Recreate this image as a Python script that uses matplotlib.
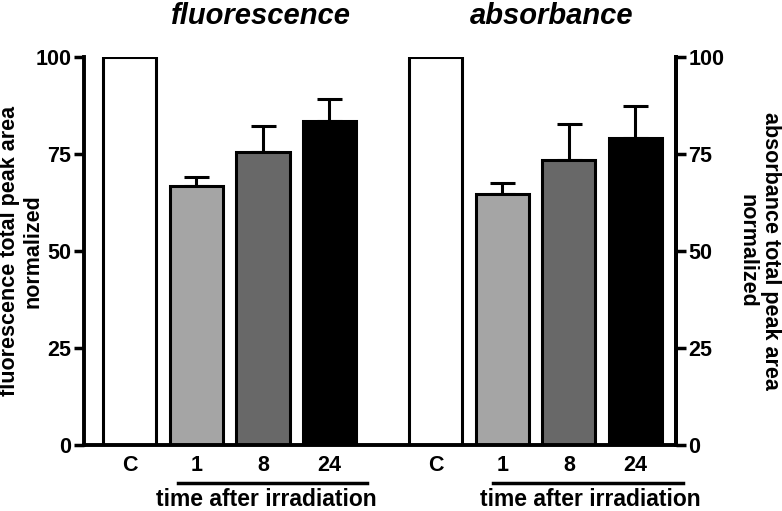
import numpy as np
import matplotlib.pyplot as plt

plt.rcParams['font.family'] = ['Liberation Sans', 'DejaVu Sans']
plt.rcParams['font.weight'] = 'bold'

groups = ['C', '1', '8', '24']
fluo_mean = [100, 66.7, 75.5, 83.5]
fluo_err = [0, 2.4, 6.7, 5.7]
abs_mean = [100, 64.8, 73.5, 79.1]
abs_err = [0, 2.9, 9.2, 8.3]
colors = ['white', '#a5a5a5', '#686868', 'black']

x_left = np.arange(4)
x_right = np.arange(4) + 4.6

fig = plt.figure(figsize=(7.82, 5.11), dpi=100)
ax = fig.add_axes([0.1074, 0.129, 0.757, 0.759])

for xs, m, e in [(x_left, fluo_mean, fluo_err), (x_right, abs_mean, abs_err)]:
    ax.bar(xs, m, width=0.8, color=colors, edgecolor='black', linewidth=2.2, zorder=2)
    ax.errorbar(xs[1:], m[1:], yerr=[np.zeros(3), e[1:]], fmt='none', ecolor='black',
                elinewidth=2.2, capsize=9, capthick=2.2, zorder=1)

ax.set_xlim(-0.69, 8.21)
ax.set_ylim(0, 100)
ax.set_yticks([0, 25, 50, 75, 100])
ax.set_xticks(np.concatenate([x_left, x_right]))
ax.set_xticklabels(groups + groups, fontsize=15.5, fontweight='bold')
ax.tick_params(axis='x', length=0, pad=7)
ax.tick_params(axis='y', width=2.5, length=7, labelsize=15.5, pad=2)
for t in ax.get_yticklabels():
    t.set_fontweight('bold')
ax.spines['top'].set_visible(False)
for s in ['left', 'right', 'bottom']:
    ax.spines[s].set_linewidth(2.8)
ax.set_ylabel('fluorescence total peak area\nnormalized', fontsize=15.5, fontweight='bold',
              linespacing=1.12)
ax.yaxis.set_label_coords(-0.069, 0.5)

ax2 = ax.twinx()
ax2.set_ylim(0, 100)
ax2.set_yticks([0, 25, 50, 75, 100])
ax2.tick_params(axis='y', width=2.5, length=7, labelsize=15.5, pad=2)
for t in ax2.get_yticklabels():
    t.set_fontweight('bold')
ax2.spines['top'].set_visible(False)
ax2.spines['right'].set_linewidth(2.8)
ax2.set_ylabel('absorbance total peak area\nnormalized', fontsize=15.5, fontweight='bold',
               rotation=270, va='bottom', linespacing=1.12)
ax2.yaxis.set_label_coords(1.103, 0.5)

fig.text(0.334, 0.968, 'fluorescence', fontsize=21, fontweight='bold', style='italic',
         ha='center', va='center')
fig.text(0.705, 0.968, 'absorbance', fontsize=21, fontweight='bold', style='italic',
         ha='center', va='center')

# group underline and label
for x0, x1, xc in [(178, 367, 266), (493, 683, 590)]:
    fig.add_artist(plt.Line2D([x0 / 782, x1 / 782], [1 - 483 / 511] * 2, color='black', linewidth=2.5))
    fig.text(xc / 782, 1 - 499 / 511, 'time after irradiation', fontsize=16.5, fontweight='bold',
             ha='center', va='center')

fig.savefig('out.png', dpi=100)
